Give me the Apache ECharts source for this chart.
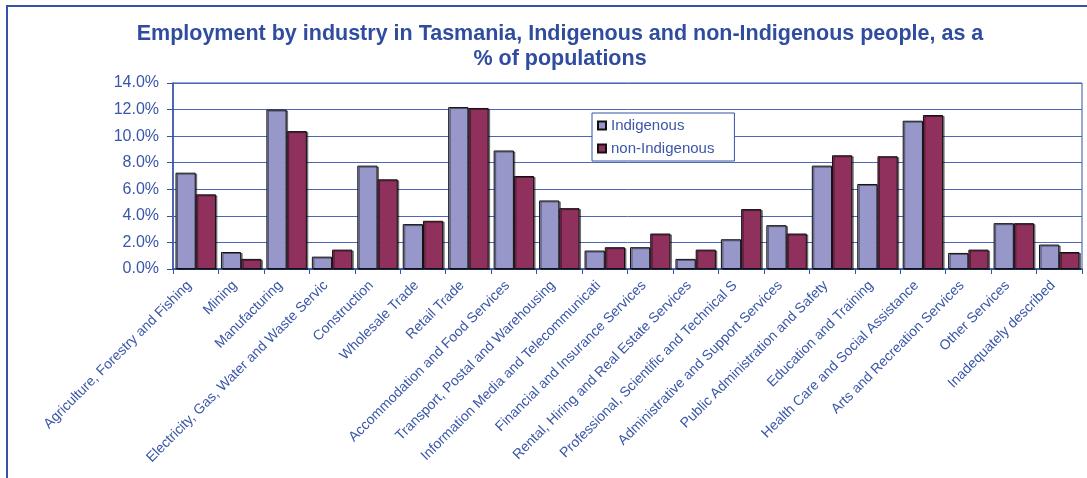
<!DOCTYPE html>
<html>
<head>
<meta charset="utf-8">
<script src="https://cdn.jsdelivr.net/npm/echarts@6/dist/echarts.min.js"></script>
<style>
  html, body { margin: 0; padding: 0; background: #fff; }
  #chart { width: 1087px; height: 478px; }
</style>
</head>
<body>
<div id="chart"></div>
<script>
var industries = [
  'Agriculture, Forestry and Fishing',
  'Mining',
  'Manufacturing',
  'Electricity, Gas, Water and Waste Services',
  'Construction',
  'Wholesale Trade',
  'Retail Trade',
  'Accommodation and Food Services',
  'Transport, Postal and Warehousing',
  'Information Media and Telecommunications',
  'Financial and Insurance Services',
  'Rental, Hiring and Real Estate Services',
  'Professional, Scientific and Technical Services',
  'Administrative and Support Services',
  'Public Administration and Safety',
  'Education and Training',
  'Health Care and Social Assistance',
  'Arts and Recreation Services',
  'Other Services',
  'Inadequately described'
];

// % of population
var indigenous = [7.25, 1.28, 12.0, 0.93, 7.78, 3.38, 12.19, 8.92, 5.16, 1.39,
  1.64, 0.76, 2.24, 3.30, 7.78, 6.40, 11.16, 1.21, 3.45, 1.84];
var nonIndigenous = [5.62, 0.76, 10.38, 1.46, 6.75, 3.63, 12.12, 7.0, 4.58, 1.64,
  2.67, 1.46, 4.51, 2.67, 8.56, 8.49, 11.59, 1.46, 3.45, 1.28];

var yTicks = { min: 0, max: 14, step: 2 };

var blue = '#3552a8';
var textBlue = '#3a56a8';
var font = 'Arial, "Liberation Sans", sans-serif';

window.addEventListener('load', function () {
  var myChart = echarts.init(document.getElementById('chart'));

  var option = {
    backgroundColor: '#fff',
    animation: false,
    textStyle: { fontFamily: font },
    title: {
      text: 'Employment by industry in Tasmania, Indigenous and non-Indigenous people, as a\n% of populations',
      left: 555,
      top: 17,
      textAlign: 'center',
      textStyle: {
        fontFamily: font,
        fontSize: 21.5,
        fontWeight: 'bold',
        color: '#2f4c9e',
        lineHeight: 25
      }
    },
    graphic: [{
      type: 'rect',
      shape: { x: 7, y: 6, width: 1200, height: 600 },
      style: { fill: 'none', stroke: blue, lineWidth: 2 },
      silent: true
    }],
    legend: {
      orient: 'vertical',
      left: 592,
      top: 113,
      padding: [5, 20, 5, 5],
      itemGap: 8,
      itemWidth: 8,
      itemHeight: 8,
      icon: 'rect',
      borderColor: blue,
      borderWidth: 1,
      backgroundColor: '#fff',
      textStyle: { fontFamily: font, fontSize: 15, color: textBlue },
      data: ['Indigenous', 'non-Indigenous']
    },
    grid: {
      left: 173,
      right: 5,
      top: 83,
      bottom: 209,
      show: true,
      borderColor: blue,
      borderWidth: 1
    },
    xAxis: {
      type: 'category',
      data: industries,
      axisLine: { lineStyle: { color: blue, width: 1.5 } },
      axisTick: { show: true, alignWithLabel: false, length: 5, lineStyle: { color: blue } },
      axisLabel: {
        interval: 0,
        rotate: 45,
        margin: 8,
        fontSize: 14,
        color: textBlue,
        padding: [0, 9, 0, 0],
        width: 252,
        overflow: 'truncate',
        ellipsis: ''
      }
    },
    yAxis: {
      type: 'value',
      min: yTicks.min,
      max: yTicks.max,
      interval: yTicks.step,
      axisLine: { show: true, lineStyle: { color: blue, width: 1.5 } },
      axisTick: { show: true, length: 6, lineStyle: { color: blue } },
      axisLabel: {
        margin: 14,
        fontSize: 16,
        color: textBlue,
        formatter: function (v) { return v.toFixed(1) + '%'; }
      },
      splitLine: { lineStyle: { color: '#4a67b8', width: 1 } }
    },
    series: [
      {
        name: 'Indigenous',
        type: 'bar',
        data: indigenous,
        barGap: '0%',
        barCategoryGap: '11%',
        itemStyle: {
          color: '#9797c9',
          borderColor: '#111',
          borderWidth: 1,
          shadowColor: 'rgba(0,0,0,0.45)',
          shadowOffsetX: 1.5,
          shadowOffsetY: 1
        }
      },
      {
        name: 'non-Indigenous',
        type: 'bar',
        data: nonIndigenous,
        itemStyle: {
          color: '#8f305d',
          borderColor: '#111',
          borderWidth: 1,
          shadowColor: 'rgba(0,0,0,0.45)',
          shadowOffsetX: 1.5,
          shadowOffsetY: 1
        }
      }
    ]
  };

  myChart.setOption(option);
});
</script>
</body>
</html>
